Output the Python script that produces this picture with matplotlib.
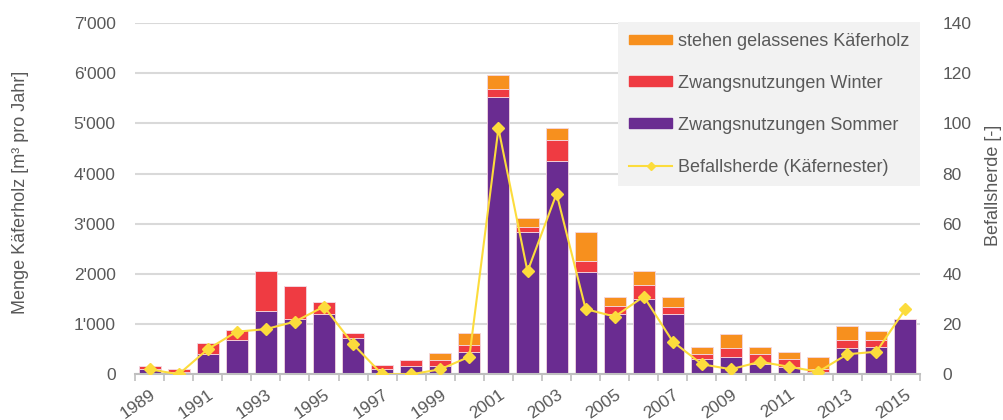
import numpy as np
import matplotlib
matplotlib.use("Agg")
import matplotlib.pyplot as plt
from matplotlib.ticker import FuncFormatter, MultipleLocator, FixedLocator
from matplotlib.patches import Patch
from matplotlib.lines import Line2D

plt.rcParams['font.family'] = ['Liberation Sans', 'DejaVu Sans']

years = list(range(1989, 2016))
sommer = [100, 50, 410, 690, 1270, 1100, 1200, 725, 110, 175, 175, 445, 5520, 2840,
          4260, 2040, 1200, 1510, 1200, 310, 345, 200, 145, 50, 525, 545, 1100]
winter = [70, 60, 210, 200, 780, 650, 240, 95, 70, 105, 105, 140, 170, 100,
          410, 215, 170, 265, 135, 100, 175, 205, 160, 50, 165, 145, 0]
stehen = [0, 0, 0, 0, 0, 0, 0, 0, 0, 0, 140, 235, 280, 165,
          235, 580, 175, 275, 205, 140, 280, 145, 145, 250, 265, 175, 0]
herde = [2, 0, 10, 17, 18, 21, 27, 12, 0, 0, 2, 7, 98, 41, 72, 26, 23, 31, 13,
         4, 2, 5, 3, 1, 8, 9, 26]

c_sommer = '#6a2c91'
c_winter = '#ef3b42'
c_stehen = '#f7901e'
c_line = '#fcdc3c'
txt = '#595959'
grid = '#d9d9d9'

fig = plt.figure(figsize=(10.04, 4.2), dpi=100)
ax = fig.add_axes([0.1345, 0.1088, 0.7818, 0.8364])
x = np.arange(len(years))
w = 0.76
edge = dict(edgecolor='#f3d6e0', linewidth=0.6)

s = np.array(sommer)
wi = np.array(winter)
st = np.array(stehen)
ax.bar(x, s, w, color=c_sommer, zorder=2, **edge)
ax.bar(x, wi, w, bottom=s, color=c_winter, zorder=2, **edge)
ax.bar(x, st, w, bottom=s + wi, color=c_stehen, zorder=2, **edge)

ax.set_xlim(-0.5, len(years) - 0.5)
ax.set_ylim(0, 7000)
ax.yaxis.set_major_locator(MultipleLocator(1000))
ax.yaxis.set_major_formatter(FuncFormatter(lambda v, p: f"{int(v):,}".replace(',', "'")))
ax.grid(axis='y', color=grid, linewidth=1.5, zorder=0)
ax.set_axisbelow(True)
for sp in ['top', 'right', 'left']:
    ax.spines[sp].set_visible(False)
ax.spines['bottom'].set_color('#bfbfbf')
ax.spines['bottom'].set_linewidth(1.5)
ax.spines['bottom'].set_zorder(3)

ax.xaxis.set_major_locator(FixedLocator(x[::2]))
ax.set_xticklabels([str(y) for y in years[::2]], rotation=35, ha='right',
                   rotation_mode='anchor', color=txt, fontsize=12.5)
ax.xaxis.set_minor_locator(FixedLocator(np.arange(-0.5, len(years), 1.0)))
ax.tick_params(axis='x', which='major', length=0, pad=9)
ax.tick_params(axis='x', which='minor', length=5, width=1.2, color='#bfbfbf')
ax.tick_params(axis='y', length=0, pad=14, labelcolor=txt, labelsize=12.5)
ax.set_ylabel("Menge Käferholz [m³ pro Jahr]", color=txt, fontsize=13)
ax.yaxis.set_label_coords(-0.135, 0.519)

ax2 = ax.twinx()
ax2.plot(x, herde, color=c_line, linewidth=1.5, marker='D', markersize=6.5, zorder=4)
ax2.set_ylim(0, 140)
ax2.yaxis.set_major_locator(MultipleLocator(20))
for sp in ax2.spines.values():
    sp.set_visible(False)
ax2.tick_params(axis='y', length=0, pad=16, labelcolor=txt, labelsize=12.5)
ax2.set_ylabel("Befallsherde [-]", color=txt, fontsize=13)
ax2.yaxis.set_label_coords(1.083, 0.539)

handles = [Patch(color=c_stehen), Patch(color=c_winter), Patch(color=c_sommer),
           Line2D([], [], color=c_line, linewidth=1.5, marker='D', markersize=4)]
labels = ["stehen gelassenes Käferholz", "Zwangsnutzungen Winter",
          "Zwangsnutzungen Sommer", "Befallsherde (Käfernester)"]
leg = ax2.legend(handles, labels, loc='upper right', bbox_to_anchor=(1.0, 1.003),
                 fontsize=13, labelcolor=txt, frameon=True, fancybox=False,
                 facecolor='#f2f2f2', edgecolor='none', framealpha=1,
                 handlelength=2.4, handleheight=0.45, handletextpad=0.3,
                 labelspacing=1.38, borderpad=0.6, borderaxespad=0)

fig.savefig("out.png", dpi=100)
